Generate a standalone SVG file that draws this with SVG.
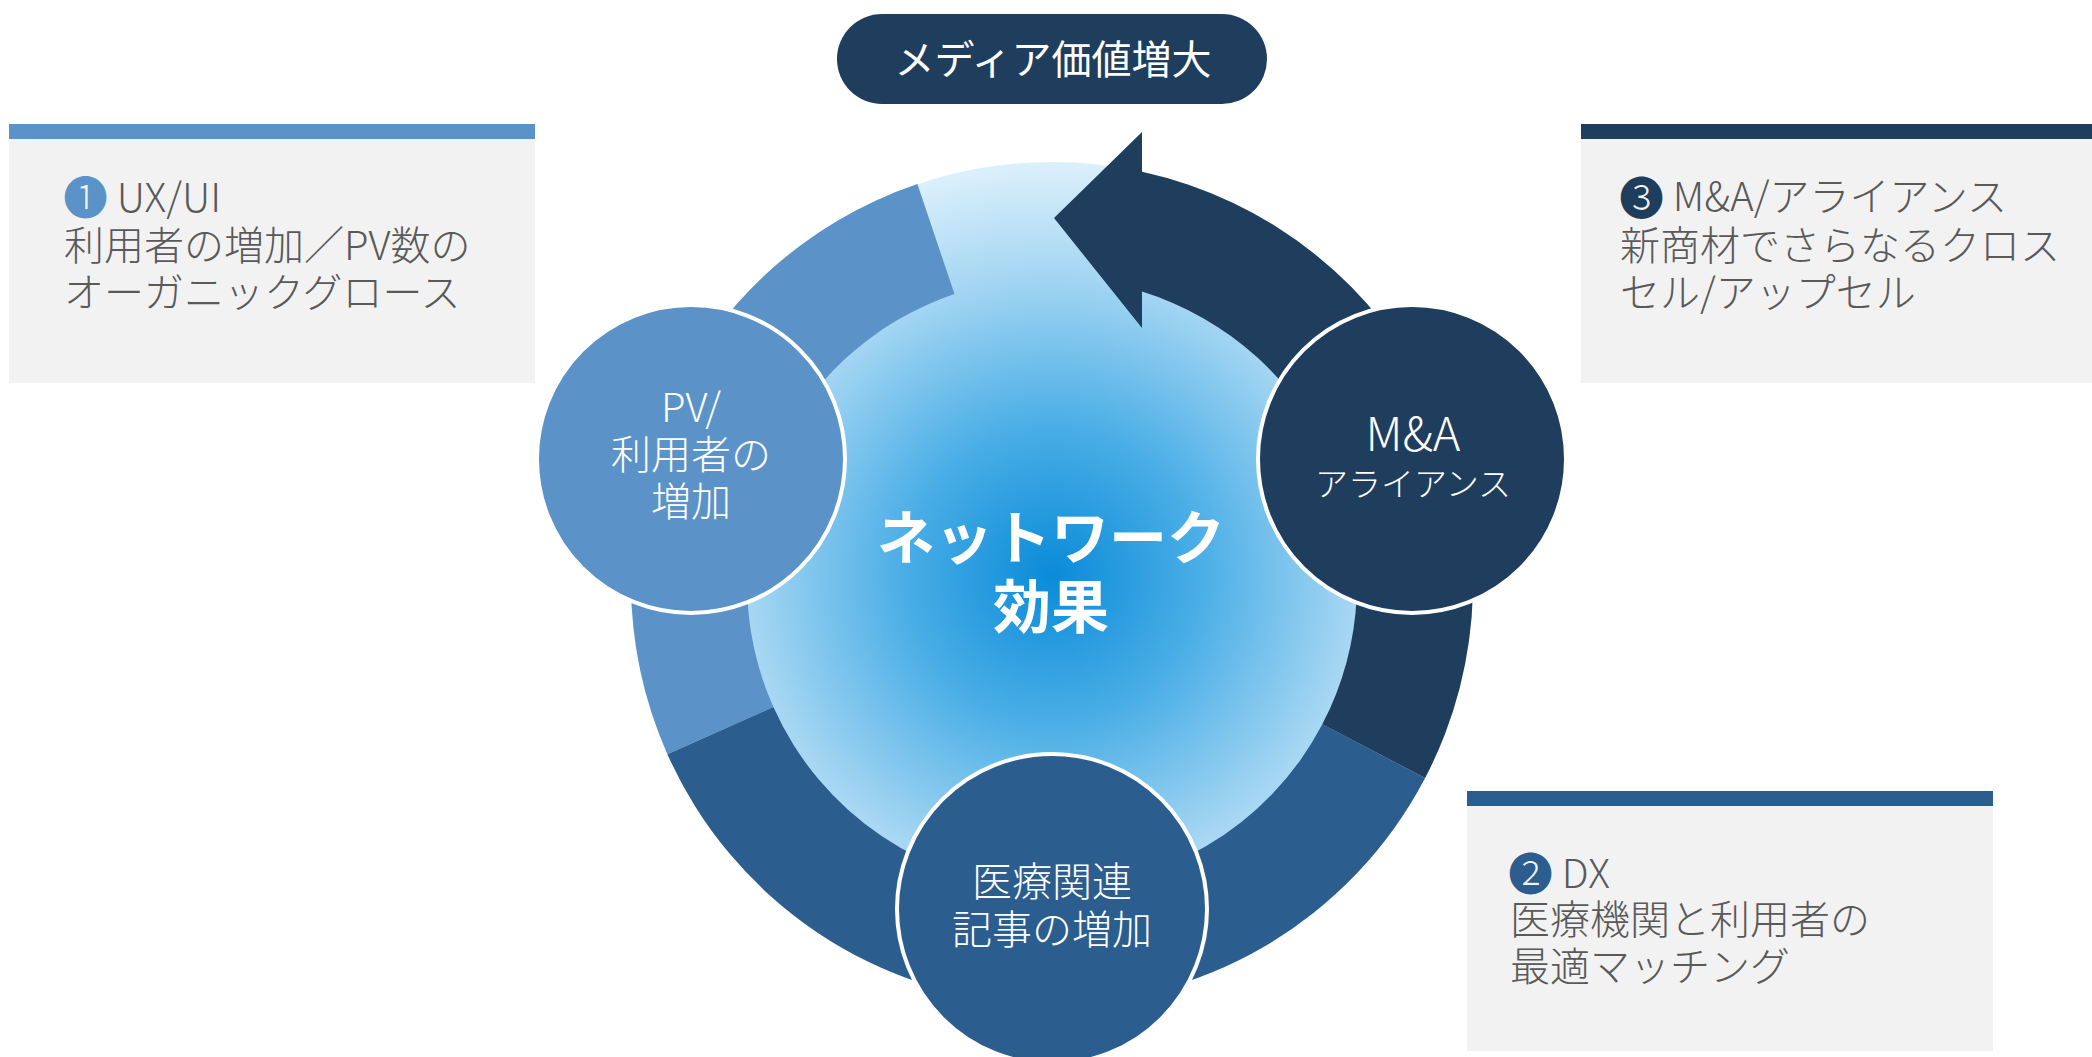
<svg xmlns="http://www.w3.org/2000/svg" width="2092" height="1057" viewBox="0 0 2092 1057">
  <defs>
    <style>
      text { font-family: "Noto Sans CJK JP", "Noto Sans", sans-serif; }
      .box-bg { fill: #F2F2F2; }
      .box-text { font-size: 40px; fill: #595959; font-weight: 300; }
      .num { font-size: 45px; }
      .node-text { font-size: 40px; fill: #FFFFFF; text-anchor: middle; }
      .thin { font-weight: 300; }
      .node-circle { stroke: #FFFFFF; stroke-width: 4; }
      .c-light { fill: #5B93C9; }
      .c-mid { fill: #2C5D8F; }
      .c-dark { fill: #1F3D5C; }
    </style>
    <radialGradient id="coreGrad" gradientUnits="userSpaceOnUse" cx="1052" cy="575" r="425">
      <stop offset="0" stop-color="#0A8BD8"/>
      <stop offset="0.35" stop-color="#4AAEE6"/>
      <stop offset="0.7" stop-color="#A3D5F2"/>
      <stop offset="1" stop-color="#E2F3FD"/>
    </radialGradient>
  </defs>

  <rect width="2092" height="1057" fill="#FFFFFF"/>

  <!-- side description boxes -->
  <g id="box-1">
    <rect class="box-bg" x="9" y="124" width="526" height="259"/>
    <rect class="c-light" x="9" y="124" width="526" height="15"/>
    <text class="box-text"><tspan class="num" x="63" y="215" fill="#5B93C9">❶</tspan><tspan y="212"> UX/UI</tspan><tspan x="64" y="260">利用者の増加／PV数の</tspan><tspan x="64" y="307">オーガニックグロース</tspan></text>
  </g>

  <g id="box-3">
    <rect class="box-bg" x="1581" y="124" width="511" height="259"/>
    <rect class="c-dark" x="1581" y="124" width="511" height="15"/>
    <text class="box-text"><tspan class="num" x="1619" y="215" fill="#1F3D5C">❸</tspan><tspan y="211"> M&amp;A/アライアンス</tspan><tspan x="1620" y="260">新商材でさらなるクロス</tspan><tspan x="1620" y="307">セル/アップセル</tspan></text>
  </g>

  <g id="box-2">
    <rect class="box-bg" x="1467" y="791" width="526" height="260"/>
    <rect class="c-mid" x="1467" y="791" width="526" height="15"/>
    <text class="box-text"><tspan class="num" x="1508" y="891" fill="#2C5D8F">❷</tspan><tspan y="888"> DX</tspan><tspan x="1510" y="934">医療機関と利用者の</tspan><tspan x="1510" y="981">最適マッチング</tspan></text>
  </g>

  <!-- top pill -->
  <g id="node-media">
    <rect class="c-dark" x="837" y="14" width="430" height="90" rx="45" ry="45"/>
    <text class="node-text" x="1053" y="74">メディア価値増大</text>
  </g>

  <!-- central disk -->
  <g id="node-center">
    <circle cx="1052" cy="583" r="421" fill="url(#coreGrad)"/>
  </g>

  <!-- cycle connectors -->
  <g id="connectors">
    <path class="c-light" d="M667.4,754.2 A421,421 0 0 1 917.4,184.1 L954.5,294 A305,305 0 0 0 773.4,707.1 Z"/>
    <path class="c-mid" d="M1425.1,778 A421,421 0 0 1 667.4,754.2 L773.4,707.1 A305,305 0 0 0 1322.3,724.3 Z"/>
    <path class="c-dark" d="M1425.1,778 A421,421 0 0 0 1142,171.7 L1142,132 L1054,218 L1142,328 L1142,291.6 A305,305 0 0 1 1322.3,724.3 Z"/>
  </g>

  <g id="node-center-label">
    <text font-size="58" font-weight="bold" fill="#FFFFFF" text-anchor="middle"><tspan x="1051" y="559">ネットワーク</tspan><tspan x="1051" y="628">効果</tspan></text>
  </g>

  <!-- nodes -->
  <g id="node-pv">
    <circle class="node-circle c-light" cx="691" cy="459" r="154"/>
    <text class="node-text thin"><tspan x="691" y="422">PV/</tspan><tspan x="691" y="469">利用者の</tspan><tspan x="691" y="516">増加</tspan></text>
  </g>

  <g id="node-ma">
    <circle class="node-circle c-dark" cx="1412" cy="459" r="154"/>
    <text class="node-text thin"><tspan x="1413" y="451" font-size="47">M&amp;A</tspan><tspan x="1413" y="496" font-size="33">アライアンス</tspan></text>
  </g>

  <g id="node-iryo">
    <circle class="node-circle c-mid" cx="1052" cy="909" r="155"/>
    <text class="node-text thin"><tspan x="1052" y="896">医療関連</tspan><tspan x="1052" y="944">記事の増加</tspan></text>
  </g>
</svg>
